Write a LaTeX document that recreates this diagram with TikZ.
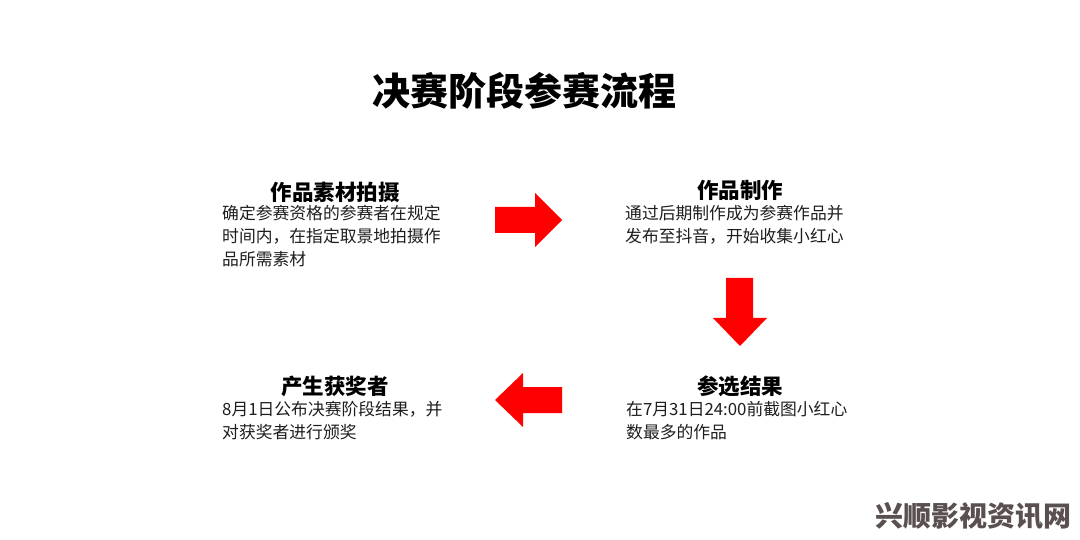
\documentclass[tikz,border=0pt]{standalone}
\usepackage{fontspec}
\newfontfamily\cjk{Noto Sans CJK SC}
\definecolor{arrowred}{HTML}{FF0000}
\definecolor{bodytext}{HTML}{1E1E1E}
\definecolor{wmgray}{HTML}{5A5050}
\tikzset{
  titletext/.style={inner sep=0pt, font=\cjk\bfseries\fontsize{38}{44}\selectfont, text=black},
  headtext/.style={inner sep=0pt, font=\cjk\bfseries\fontsize{21.5}{26}\selectfont, text=black},
  bodyblock/.style={inner sep=0pt, anchor=north west, align=left, font=\cjk\fontsize{16.8}{23}\selectfont, text=bodytext},
  redarrow/.style={fill=arrowred, draw=none},
  watermark/.style={inner sep=0pt, font=\cjk\bfseries\fontsize{28}{32}\selectfont, text=wmgray}
}
\begin{document}
\begin{tikzpicture}[x=1pt,y=-1pt]
\useasboundingbox[fill=white] (0,0) rectangle (1080,540);

\node[titletext] (title) at (524,91) {决赛阶段参赛流程};

% top left
\node[headtext] (h1) at (335,192) {作品素材拍摄};
\node[bodyblock] (b1) at (222,205) {确定参赛资格的参赛者在规定\\时间内，在指定取景地拍摄作\\品所需素材};

% top right
\node[headtext] (h2) at (740,190) {作品制作};
\node[bodyblock] (b2) at (625,205) {通过后期制作成为参赛作品并\\发布至抖音，开始收集小红心};

% bottom right
\node[headtext] (h3) at (740,386) {参选结果};
\node[bodyblock] (b3) at (626,401) {在7月31日24:00前截图小红心\\数最多的作品};

% bottom left
\node[headtext] (h4) at (335,386) {产生获奖者};
\node[bodyblock] (b4) at (222,401) {8月1日公布决赛阶段结果，并\\对获奖者进行颁奖};

% arrows
\fill[redarrow] (495,207) -- (535,207) -- (535,193) -- (562,220) -- (535,247) -- (535,233) -- (495,233) -- cycle;
\fill[redarrow] (726,278) -- (753,278) -- (753,318) -- (767,318) -- (740,346) -- (713,318) -- (726,318) -- cycle;
\fill[redarrow] (562,387) -- (523,387) -- (523,373) -- (495,400) -- (523,427) -- (523,413) -- (562,413) -- cycle;

\node[watermark] (wm) at (973,516) {兴顺影视资讯网};
\end{tikzpicture}
\end{document}
